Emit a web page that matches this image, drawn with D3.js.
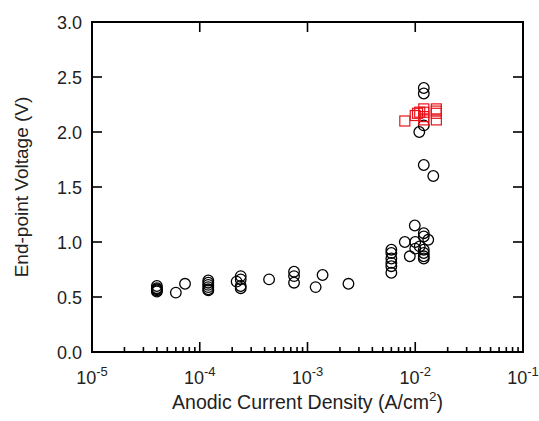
<!DOCTYPE html>
<html>
<head>
<meta charset="utf-8">
<script src="https://cdn.jsdelivr.net/npm/d3@7"></script>
<style>
  html, body { margin: 0; padding: 0; background: #fff; }
  svg { display: block; font-family: "Liberation Sans", Arial, Helvetica, sans-serif; }
</style>
</head>
<body>
<svg id="chart" width="539" height="421"></svg>
<script>
/* ── Data ─────────────────────────────── */
// black open circles: current density (A/cm2) and end-point voltage (V)
const circleX = [
  4e-5, 4e-5, 4e-5, 4e-5, 4e-5,
  6e-5, 7.3e-5,
  1.2e-4, 1.2e-4, 1.2e-4, 1.2e-4, 1.2e-4, 1.2e-4,
  2.2e-4, 2.4e-4, 2.4e-4, 2.4e-4, 2.4e-4,
  4.4e-4, 7.5e-4, 7.5e-4, 7.5e-4,
  1.19e-3, 1.38e-3, 2.4e-3,
  6e-3, 6e-3, 6e-3, 6e-3, 6e-3, 6e-3,
  8e-3, 8.9e-3, 9.9e-3, 1.0e-2, 1.0e-2, 1.1e-2,
  1.2e-2, 1.2e-2, 1.2e-2, 1.2e-2, 1.2e-2, 1.2e-2, 1.32e-2,
  1.2e-2, 1.2e-2, 1.2e-2, 1.09e-2, 1.2e-2, 1.47e-2
];
const circleY = [
  0.60, 0.58, 0.57, 0.56, 0.55,
  0.54, 0.62,
  0.65, 0.63, 0.61, 0.59, 0.57, 0.56,
  0.64, 0.69, 0.66, 0.60, 0.58,
  0.66, 0.73, 0.69, 0.63,
  0.59, 0.70, 0.62,
  0.93, 0.90, 0.85, 0.81, 0.78, 0.72,
  1.00, 0.87, 1.15, 1.00, 0.94, 0.96,
  1.08, 1.05, 0.93, 0.90, 0.87, 0.85, 1.02,
  2.40, 2.35, 2.06, 2.00, 1.70, 1.60
];
// red open squares
const squareX = [8.0e-3, 1.0e-2, 1.05e-2, 1.1e-2, 1.2e-2, 1.2e-2, 1.2e-2, 1.2e-2, 1.57e-2, 1.57e-2, 1.57e-2, 1.57e-2];
const squareY = [2.10, 2.15, 2.17, 2.18, 2.11, 2.18, 2.21, 2.14, 2.11, 2.17, 2.19, 2.21];

const xDecades = [-5, -4, -3, -2, -1];
const yTicks = [0, 0.5, 1.0, 1.5, 2.0, 2.5, 3.0];

/* ── Layout ───────────────────────────── */
const svg = d3.select("#chart");
const margin = { top: 22, right: 16, bottom: 69, left: 92 };
const W = 539 - margin.left - margin.right;
const H = 421 - margin.top - margin.bottom;

const x = d3.scaleLog().domain([1e-5, 1e-1]).range([0, W]);
const y = d3.scaleLinear().domain([0, 3]).range([H, 0]);

const g = svg.append("g").attr("transform", `translate(${margin.left},${margin.top})`);

/* ── Ticks (inward) ───────────────────── */
const majorLen = 10, minorLen = 5;
const minorTicks = [];
xDecades.slice(0, -1).forEach(p => {
  for (let k = 2; k <= 9; k++) minorTicks.push(k * Math.pow(10, p));
});

const ticks = g.append("g").attr("stroke", "#000").attr("stroke-width", 1.6);

ticks.selectAll(".xmin").data(minorTicks).join("line")
  .attr("x1", d => x(d)).attr("x2", d => x(d))
  .attr("y1", H).attr("y2", H - minorLen);

ticks.selectAll(".xmaj").data(xDecades).join("line")
  .attr("x1", d => x(Math.pow(10, d))).attr("x2", d => x(Math.pow(10, d)))
  .attr("y1", H).attr("y2", H - majorLen);

ticks.selectAll(".xtop").data(xDecades).join("line")
  .attr("x1", d => x(Math.pow(10, d))).attr("x2", d => x(Math.pow(10, d)))
  .attr("y1", 0).attr("y2", majorLen);

ticks.selectAll(".yl").data(yTicks).join("line")
  .attr("x1", 0).attr("x2", majorLen)
  .attr("y1", d => y(d)).attr("y2", d => y(d));

ticks.selectAll(".yr").data(yTicks).join("line")
  .attr("x1", W).attr("x2", W - majorLen)
  .attr("y1", d => y(d)).attr("y2", d => y(d));

/* ── Frame ───────────────────────────── */
g.append("rect")
  .attr("width", W).attr("height", H)
  .attr("fill", "none").attr("stroke", "#000").attr("stroke-width", 2);

/* ── Tick labels ─────────────────────── */
g.selectAll(".ylab").data(yTicks).join("text")
  .attr("x", -10).attr("y", d => y(d) + 6.5)
  .attr("text-anchor", "end")
  .attr("font-size", 18)
  .attr("fill", "#222")
  .text(d => d.toFixed(1));

const xl = g.selectAll(".xlab").data(xDecades).join("text")
  .attr("x", d => x(Math.pow(10, d)))
  .attr("y", H + 32)
  .attr("text-anchor", "middle")
  .attr("font-size", 18)
  .attr("fill", "#222");
xl.append("tspan").text("10");
xl.append("tspan").attr("dy", -8).attr("font-size", 13).text(d => d);

/* ── Axis titles ─────────────────────── */
const xt = g.append("text")
  .attr("x", W / 2).attr("y", H + 57)
  .attr("text-anchor", "middle")
  .attr("font-size", 19.5)
  .attr("fill", "#222");
xt.append("tspan").text("Anodic Current Density (A/cm");
xt.append("tspan").attr("dy", -8).attr("font-size", 13.5).text("2");
xt.append("tspan").attr("dy", 8).text(")");

g.append("text")
  .attr("transform", `translate(${-64},${H / 2}) rotate(-90)`)
  .attr("text-anchor", "middle")
  .attr("font-size", 19)
  .attr("fill", "#222")
  .text("End-point Voltage (V)");

/* ── Marks ───────────────────────────── */
g.append("g").selectAll("circle")
  .data(d3.zip(circleX, circleY)).join("circle")
  .attr("cx", d => x(d[0])).attr("cy", d => y(d[1]))
  .attr("r", 5.3)
  .attr("fill", "none").attr("stroke", "#000").attr("stroke-width", 1.3);

const sq = 10;
g.append("g").selectAll("rect")
  .data(d3.zip(squareX, squareY)).join("rect")
  .attr("x", d => x(d[0]) - sq / 2).attr("y", d => y(d[1]) - sq / 2)
  .attr("width", sq).attr("height", sq)
  .attr("fill", "none").attr("stroke", "#e8141c").attr("stroke-width", 1.2);
</script>
</body>
</html>
